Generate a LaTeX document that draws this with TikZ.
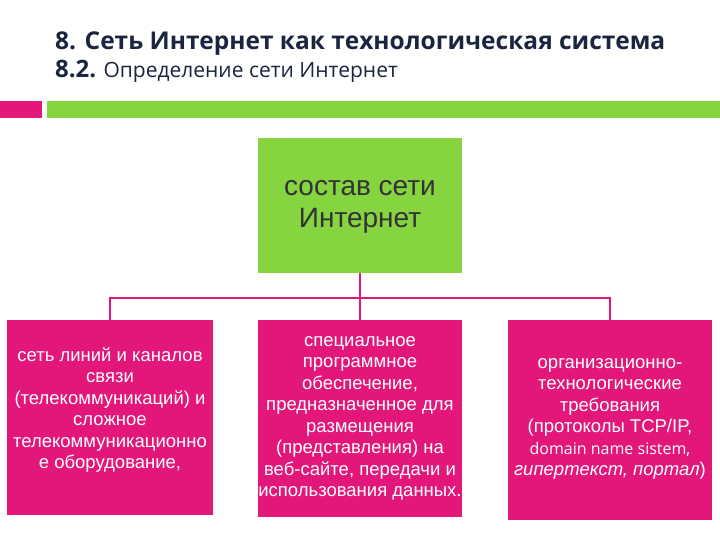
\documentclass[tikz,border=0pt]{standalone}
\usepackage{fontspec}
\setmainfont{Liberation Sans}
\newfontfamily\titlefont{Open Sans}
\begin{document}
\begin{tikzpicture}[x=1pt,y=-1pt,
  pinkbox/.style={fill=boxpink,draw=none,text=white,align=center,font=\fontsize{18.5}{21.5}\selectfont,inner sep=0pt},
  conn/.style={draw=boxpink,line width=1.2pt}]
\definecolor{boxpink}{HTML}{E3177A}
\definecolor{boxgreen}{HTML}{86D440}
\definecolor{navy}{HTML}{1B2540}
\useasboundingbox (0,0) rectangle (720,540);
\node[anchor=base west,text=navy,font=\titlefont\bfseries\fontsize{24.5}{28}\selectfont,inner sep=0pt] (t1) at (55,50) {8. Сеть Интернет как технологическая система};
\node[anchor=base west,text=navy,font=\titlefont\fontsize{21}{25}\selectfont,inner sep=0pt] (t2) at (55,78) {\textbf{\fontsize{24}{28}\selectfont 8.2.} Определение сети Интернет};
\fill[boxpink] (0,101) rectangle (42,118);
\fill[boxgreen] (47,101) rectangle (720,118);
\node[fill=boxgreen,minimum width=204pt,minimum height=135pt,inner sep=0pt,text=black!80,font=\fontsize{28}{32}\selectfont] (top) at (360,205.5) {};
\node[align=center,text=black!80,font=\fontsize{28}{32}\selectfont,inner sep=0pt] (toptext) at (360,207) {состав сети\\Интернет};
\node[pinkbox,minimum width=206pt,minimum height=195pt] (b1) at (110,417.5) {};
\node[pinkbox] (b1t) at (110,410) {сеть линий и каналов\\связи\\(телекоммуникаций) и\\сложное\\телекоммуникационно\\е оборудование,};
\node[pinkbox,minimum width=204pt,minimum height=197pt] (b2) at (360,418.5) {специальное\\программное\\обеспечение,\\предназначенное для\\размещения\\(представления) на\\веб-сайте, передачи и\\использования данных.};
\node[pinkbox,minimum width=204pt,minimum height=200pt] (b3) at (610,420) {};
\node[pinkbox] (b3t) at (610,419) {организационно-\\технологические\\требования\\(протоколы TCP/IP,\\{\titlefont\fontsize{16}{21.5}\selectfont domain name sistem,}\\\textit{гипертекст, портал})};
\coordinate (j) at (360,298);
\draw[conn] (top.south) -- (j);
\draw[conn] (b1.north) |- (j) -| (b3.north);
\draw[conn] (j) -- (b2.north);
\end{tikzpicture}
\end{document}
